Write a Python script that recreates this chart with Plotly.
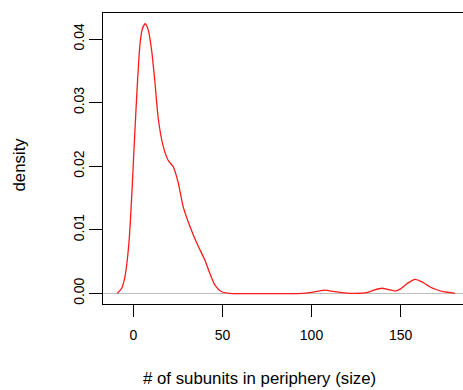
import plotly.graph_objects as go

# Kernel density estimate of periphery size, sampled along the x grid
size_grid = [-9, -6.5, -4.7, -3.4, -2.2, -1.3, -0.35, 0.56, 1.5, 2.5, 3.8, 5.1,
             6.7, 8.4, 10.3, 12.2, 14, 16.8, 19.6, 22.4, 25.3, 28, 31.8, 35.6,
             40.2, 43, 45.8, 49.6, 54, 95, 99, 103, 107.6, 112, 117, 122, 131,
             135, 139.4, 143, 146.9, 150, 154, 158.1, 162, 166.5, 170, 174, 180.5]
density = [0, 0.0008, 0.0026, 0.0052, 0.0089, 0.0131, 0.0183, 0.0236, 0.0288,
           0.0340, 0.0393, 0.0416, 0.0424, 0.0414, 0.0382, 0.0330, 0.0275,
           0.0231, 0.0209, 0.0199, 0.0173, 0.0136, 0.0105, 0.0079, 0.0052,
           0.0031, 0.0013, 0.00025, 0, 0, 0.0001, 0.0003, 0.0005, 0.0003,
           0.0001, 0, 0.0001, 0.0005, 0.0008, 0.0006, 0.00036, 0.0007, 0.0016,
           0.0022, 0.0018, 0.0010, 0.0006, 0.00025, 0]

x_ticks = [0, 50, 100, 150]
y_ticks = [0.00, 0.01, 0.02, 0.03, 0.04]

x_title = "# of subunits in periphery (size)"
y_title = "density"

font_family = "Liberation Sans, Arial, Helvetica, sans-serif"

fig = go.Figure()
fig.add_trace(go.Scatter(
    x=size_grid, y=density, mode="lines",
    line=dict(color="#ff1a1a", width=1.3, shape="spline", smoothing=0.6),
    hoverinfo="skip", showlegend=False,
))

fig.update_layout(
    width=463, height=390,
    margin=dict(l=103, r=0, t=13, b=86),
    paper_bgcolor="white", plot_bgcolor="white",
    font=dict(family=font_family, size=14, color="black"),
    showlegend=False,
)

fig.update_xaxes(
    range=[-17, 185], tickvals=x_ticks, ticktext=[str(v) for v in x_ticks],
    showgrid=False, zeroline=False,
    showline=True, linecolor="black", linewidth=1, mirror=True,
    ticks="outside", ticklen=12, tickcolor="black", tickwidth=1,
    ticklabelstandoff=6,
)
fig.update_yaxes(
    range=[-0.00168, 0.04409], tickvals=y_ticks,
    ticktext=[f"{v:.2f}" for v in y_ticks], tickangle=-90,
    showgrid=False,
    zeroline=True, zerolinecolor="#bebebe", zerolinewidth=1,
    showline=True, linecolor="black", linewidth=1, mirror=False,
    ticks="outside", ticklen=13, tickcolor="black", tickwidth=1,
    ticklabelstandoff=-1,
)

# Axis titles placed as annotations relative to the plotting area
fig.add_annotation(
    text=x_title, xref="paper", yref="paper", x=0.4361, y=-0.2543,
    xanchor="center", yanchor="middle", showarrow=False,
    font=dict(size=16.8),
)
fig.add_annotation(
    text=y_title, xref="paper", yref="paper", x=-0.2306, y=0.4794,
    xanchor="center", yanchor="middle", showarrow=False, textangle=-90,
    font=dict(size=16.8),
)

fig.write_html("out.html")
